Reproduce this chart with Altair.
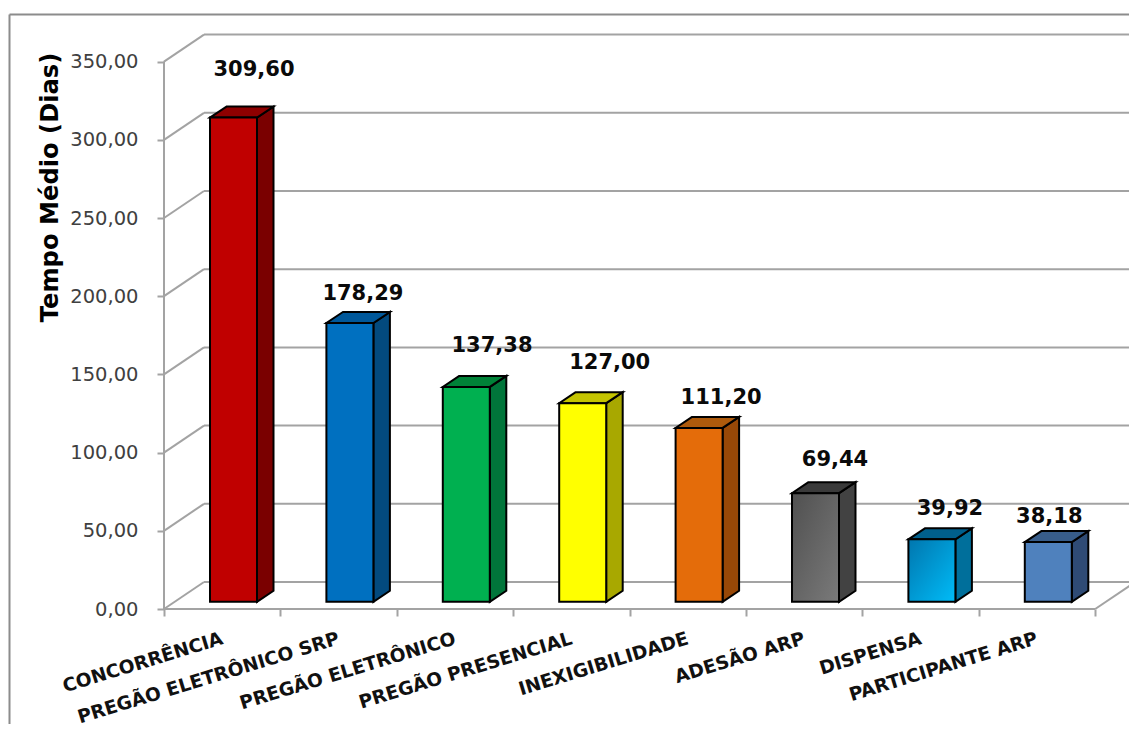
import json
import altair as alt
import pandas as pd

categories = ["CONCORRÊNCIA", "PREGÃO ELETRÔNICO SRP", "PREGÃO ELETRÔNICO", "PREGÃO PRESENCIAL",
              "INEXIGIBILIDADE", "ADESÃO ARP", "DISPENSA", "PARTICIPANTE ARP"]
values = [309.60, 178.29, 137.38, 127.00, 111.20, 69.44, 39.92, 38.18]
labels = ["309,60", "178,29", "137,38", "127,00", "111,20", "69,44", "39,92", "38,18"]
y_ticks = [0, 50, 100, 150, 200, 250, 300, 350]

front_colors = ["#C00000", "#0070C0", "#00B050", "#FFFF00", "#E46C0A", None, None, "#4F81BD"]
side_colors = ["#7A0000", "#034A7E", "#00753A", "#A8A800", "#984807", "#424242", "#006F9B", "#2F4B75"]
top_colors = ["#8E0000", "#00589A", "#008238", "#C4C400", "#AE5A0C", "#3A3A3A", "#005F8C", "#385D8A"]
gradients = {
    5: alt.LinearGradient(gradient="linear", x1=0, y1=0, x2=1, y2=1,
                    stops=[alt.GradientStop(color="#505050", offset=0), alt.GradientStop(color="#7A7A7A", offset=1)]),
    6: alt.LinearGradient(gradient="linear", x1=0, y1=0, x2=1, y2=1,
                    stops=[alt.GradientStop(color="#0076AE", offset=0), alt.GradientStop(color="#00BCF8", offset=1)]),
}
# pixel offset of each value label from the top of its bar (labels were hand-placed)
label_dx = [20.5, 13, 25.7, 27, 22, 19.5, 18, 1]
label_dy = [-47.6, -29, -41, -40, -30, -33, -30, -25]

PAGE_W, PAGE_H = 1121, 716
PX_SLOT, PX_UNIT = 116.4, 1.564
OX, OY = 164, 609                # page position of slot 0 / value 0
PAD_L, PAD_B = OX - 8, 8 + PAGE_H - OY
W, H = PAGE_W - PAD_L, PAGE_H - PAD_B

x_max = W / PX_SLOT
y_max = H / PX_UNIT

xs = alt.Scale(domain=[0, x_max], nice=False, zero=False)
ys = alt.Scale(domain=[0, y_max], nice=False, zero=False)

N = len(categories)
DEPTH_X, DEPTH_Y = 40 / PX_SLOT, 27 / PX_UNIT      # chart depth
BAR_L, BAR_W = 46 / PX_SLOT, 47 / PX_SLOT
BAR_DX, BAR_DY = 16.5 / PX_SLOT, 11 / PX_UNIT
BASE = 4.6
GRID = "#A3A3A3"
FONT = "DejaVu Sans"


def X(f, **kw):
    return alt.X(f, type="quantitative", scale=xs, **kw)


def Y(f, **kw):
    return alt.Y(f, type="quantitative", scale=ys, **kw)


names_js = json.dumps(categories, ensure_ascii=False)
x_axis = alt.Axis(
    values=[i / 2 for i in range(2 * N + 1)],
    orient="bottom", domain=False, grid=False, title=None,
    tickSize=7, tickColor=GRID, tickWidth=2,
    tickOpacity=alt.expr("datum.value % 1 == 0 ? 1 : 0"),
    labelExpr=f"datum.value % 1 == 0 ? '' : {names_js}[floor(datum.value)]",
    labelAngle=343, labelAlign="right", labelBaseline="top", labelPadding=13, labelOffset=-3,
    labelFont=FONT, labelFontSize=18.6, labelFontWeight="bold", labelColor="#111111",
    labelLimit=500, labelOverlap=False, labelBound=False, labelFlush=False,
)
y_axis = alt.Axis(
    values=y_ticks, orient="left", domain=False, grid=False,
    title="Tempo Médio (Dias)", titleFont=FONT, titleFontSize=24.2, titleFontWeight="bold",
    titleColor="#000000", titleAngle=270, titleAlign="center", titleBaseline="middle",
    titleX=50 - OX, titleY=187 - 8, titleAnchor="middle", titleLimit=500,
    tickSize=7, tickColor=GRID, tickWidth=2,
    labelExpr="replace(format(datum.value, '.2f'), '.', ',')",
    labelPadding=19, labelFont=FONT, labelFontSize=19.5, labelColor="#404040",
    labelOverlap=False, labelBound=False, labelFlush=False,
)

layers = []

# axes + vertical wall edge
wall = pd.DataFrame({"x": [0], "y": [0], "y2": [max(y_ticks)]})
layers.append(alt.Chart(wall).mark_rule(color=GRID, strokeWidth=2).encode(
    x=X("x", axis=x_axis), y=Y("y", axis=y_axis), y2=alt.Y2("y2")))

# frame
frame = pd.DataFrame({"a": [0]})
layers.append(alt.Chart(frame).mark_rule(color="#8C8C8C", strokeWidth=2).encode(
    x=alt.value(1.5 - PAD_L), y=alt.value(6.5), y2=alt.value(PAGE_H + 10)))
layers.append(alt.Chart(frame).mark_rule(color="#8C8C8C", strokeWidth=2).encode(
    x=alt.value(1.5 - PAD_L), x2=alt.value(W + 10), y=alt.value(6.5)))

# back wall grid + diagonals
grid = pd.DataFrame({"t": y_ticks})
grid["xb"] = DEPTH_X
grid["xr"] = x_max
grid["x0"] = 0.0
grid["yb"] = grid["t"] + DEPTH_Y
layers.append(alt.Chart(grid).mark_rule(color=GRID, strokeWidth=2).encode(
    x=X("xb"), x2=alt.X2("xr"), y=Y("yb")))
layers.append(alt.Chart(grid).mark_rule(color=GRID, strokeWidth=2).encode(
    x=X("x0"), x2=alt.X2("xb"), y=Y("t"), y2=alt.Y2("yb")))

# floor
floor = pd.DataFrame({"x": [0.0, float(N)], "x2": [float(N), N + DEPTH_X], "y": [0.0, 0.0], "y2": [0.0, DEPTH_Y]})
layers.append(alt.Chart(floor).mark_rule(color=GRID, strokeWidth=2).encode(
    x=X("x"), x2=alt.X2("x2"), y=Y("y"), y2=alt.Y2("y2")))

# bars
STROKE = dict(stroke="#000000", strokeWidth=2, strokeJoin="miter")
side_rows, top_rows = [], []
for i, val in enumerate(values):
    L, R = i + BAR_L, i + BAR_L + BAR_W
    t = val + BASE
    side_rows += [
        dict(bar=i, c=side_colors[i], x=R, y=t, y2=BASE),
        dict(bar=i, c=side_colors[i], x=R + BAR_DX, y=t + BAR_DY, y2=BASE + BAR_DY),
    ]
    top_rows += [
        dict(bar=i, c=top_colors[i], y=t, x=L, x2=R),
        dict(bar=i, c=top_colors[i], y=t + BAR_DY, x=L + BAR_DX, x2=R + BAR_DX),
    ]

layers.append(alt.Chart(pd.DataFrame(side_rows)).mark_area(orient="vertical", **STROKE).encode(
    x=X("x"), y=Y("y"), y2=alt.Y2("y2"), fill=alt.Fill("c:N", scale=None), detail="bar:N"))
layers.append(alt.Chart(pd.DataFrame(top_rows)).mark_area(orient="horizontal", **STROKE).encode(
    y=Y("y"), x=X("x"), x2=alt.X2("x2"), fill=alt.Fill("c:N", scale=None), detail="bar:N"))

for i, val in enumerate(values):
    L, R = i + BAR_L, i + BAR_L + BAR_W
    row = pd.DataFrame({"x": [L], "x2": [R], "y": [val + BASE], "y2": [BASE],
                        "cx": [(L + R) / 2], "label": [labels[i]]})
    fill = gradients.get(i, front_colors[i])
    layers.append(alt.Chart(row).mark_rect(color=fill, **STROKE).encode(
        x=X("x"), x2=alt.X2("x2"), y=Y("y"), y2=alt.Y2("y2")))
    layers.append(alt.Chart(row).mark_text(
        font=FONT, fontSize=21, fontWeight="bold", color="#0A0A0A",
        align="center", baseline="middle", dx=label_dx[i], dy=label_dy[i],
    ).encode(x=X("cx"), y=Y("y"), text="label:N"))

chart = alt.layer(*layers).properties(
    width=W, height=H,
    autosize=alt.AutoSizeParams(type="none"),
    padding={"left": PAD_L, "top": 0, "right": 0, "bottom": PAD_B},
    background="#FFFFFF",
).configure_view(stroke=None)

chart.save("out.html", embed_options={"renderer": "svg", "actions": False})
